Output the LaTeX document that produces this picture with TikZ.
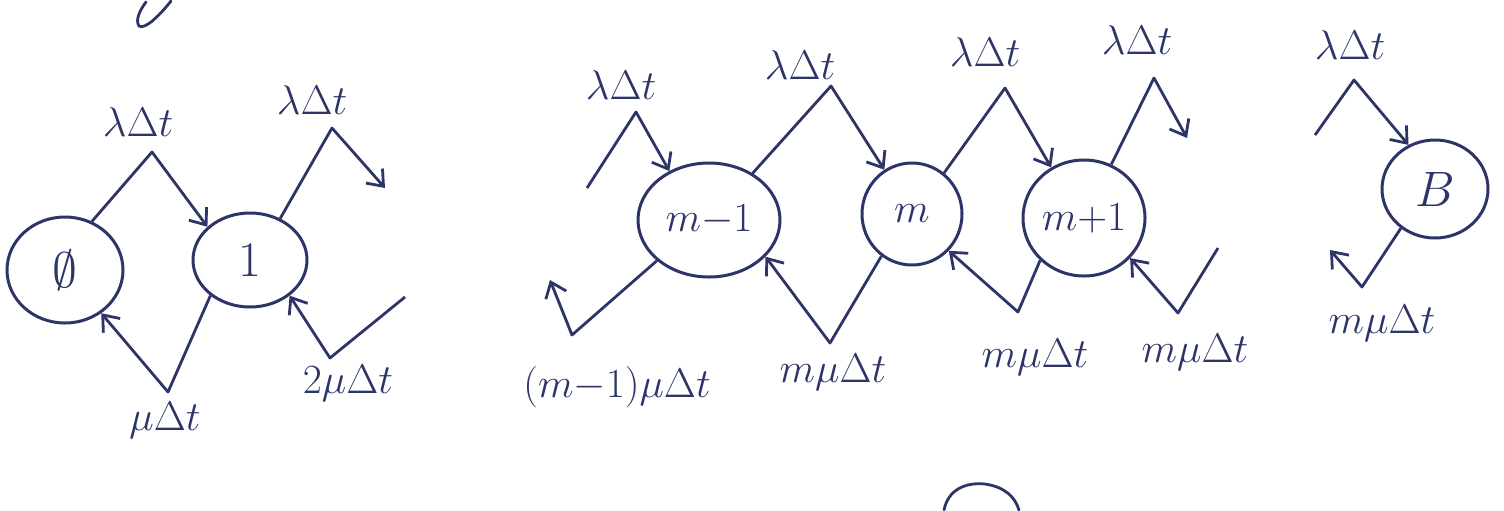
\documentclass[tikz,border=0pt]{standalone}
\usetikzlibrary{arrows.meta,shapes.geometric}
\definecolor{ink}{RGB}{44,52,104}
\tikzset{
  state/.style={draw=ink,ellipse,line width=1.5pt,inner sep=0pt,text=ink,font=\huge},
  arr/.style={draw=ink,line width=1.4pt,line join=round,-{Straight Barb[length=7pt,width=11pt,line width=1.4pt]}},
  ln/.style={draw=ink,line width=1.4pt,line cap=round},
  lab/.style={text=ink,font=\huge,inner sep=0pt}
}
\begin{document}
\begin{tikzpicture}[x=0.5pt,y=-0.5pt]
\useasboundingbox (0,0) rectangle (1504,510);
% states
\node[state,minimum width=58pt,minimum height=53pt] (n0) at (65,270) {\Huge$\emptyset$};
\node[state,minimum width=57pt,minimum height=47pt] (n1) at (250,260) {\Huge$1$};
\node[state,minimum width=71pt,minimum height=57pt] (nm1) at (709,220) {$m{-}1$};
\node[state,minimum width=50pt,minimum height=51pt] (nm) at (912,214) {$m$};
\node[state,minimum width=61pt,minimum height=58pt] (np1) at (1084,218) {$m{+}1$};
\node[state,minimum width=53pt,minimum height=49pt] (nB) at (1435,189) {\Huge$B$};
% bend points
\coordinate (a1) at (152,152);
\coordinate (a2) at (332,128);
\coordinate (a2e) at (385,188);
\coordinate (b1) at (168,392);
\coordinate (b2s) at (405,297);
\coordinate (b2) at (330,358);
\coordinate (c0s) at (587,188);
\coordinate (c0) at (636,112);
\coordinate (c1) at (831,86);
\coordinate (c2) at (1005,88);
\coordinate (c3) at (1154,78);
\coordinate (c3e) at (1187,138);
\coordinate (d0) at (572,335);
\coordinate (d0e) at (550,280);
\coordinate (d1) at (830,343);
\coordinate (d2) at (1018,312);
\coordinate (d3s) at (1218,248);
\coordinate (d3) at (1178,313);
\coordinate (e0s) at (1315,135);
\coordinate (e0) at (1354,80);
\coordinate (e1) at (1362,287);
\coordinate (e1e) at (1330,250);
% lambda arrows
\draw[arr] (n0.61) -- (a1) -- (n1.142);
\draw[arr] (n1.54) -- (a2) -- (a2e);
\draw[arr] (c0s) -- (c0) -- (nm1.129);
\draw[arr] (nm1.47) -- (c1) -- (nm.122);
\draw[arr] (nm.52) -- (c2) -- (np1.123);
\draw[arr] (np1.63) -- (c3) -- (c3e);
\draw[arr] (e0s) -- (e0) -- (nB.121);
% mu arrows
\draw[arr] (n1.222) -- (b1) -- (n0.310);
\draw[arr] (b2s) -- (b2) -- (n1.318);
\draw[arr] (nm1.218) -- (d0) -- (d0e);
\draw[arr] (nm.234) -- (d1) -- (nm1.327);
\draw[arr] (np1.224) -- (d2) -- (nm.315);
\draw[arr] (d3s) -- (d3) -- (np1.319);
\draw[arr] (nB.229) -- (e1) -- (e1e);
% labels
\node[lab] (l1) at (138,122) {$\lambda\Delta t$};
\node[lab] (l2) at (312,100) {$\lambda\Delta t$};
\node[lab] (l3) at (165,420) {$\mu\Delta t$};
\node[lab] (l4) at (348,383) {$2\mu\Delta t$};
\node[lab] (l5) at (621,85) {$\lambda\Delta t$};
\node[lab] (l6) at (800,65) {$\lambda\Delta t$};
\node[lab] (l7) at (985,52) {$\lambda\Delta t$};
\node[lab] (l8) at (1137,40) {$\lambda\Delta t$};
\node[lab] (l9) at (1350,45) {$\lambda\Delta t$};
\node[lab] (l10) at (617,387) {$(m{-}1)\mu\Delta t$};
\node[lab] (l11) at (833,372) {$m\mu\Delta t$};
\node[lab] (l12) at (1035,357) {$m\mu\Delta t$};
\node[lab] (l13) at (1195,352) {$m\mu\Delta t$};
\node[lab] (l14) at (1382,323) {$m\mu\Delta t$};
% stray fragments at the picture edges
\draw[ln] (171,1) .. controls (160,15) and (145,30) .. (139,26) .. controls (135,20) and (140,10) .. (146,2);
\draw[ln] (944,510) .. controls (948,490) and (965,482) .. (985,484) .. controls (1005,487) and (1015,497) .. (1019,510);
\end{tikzpicture}
\end{document}
